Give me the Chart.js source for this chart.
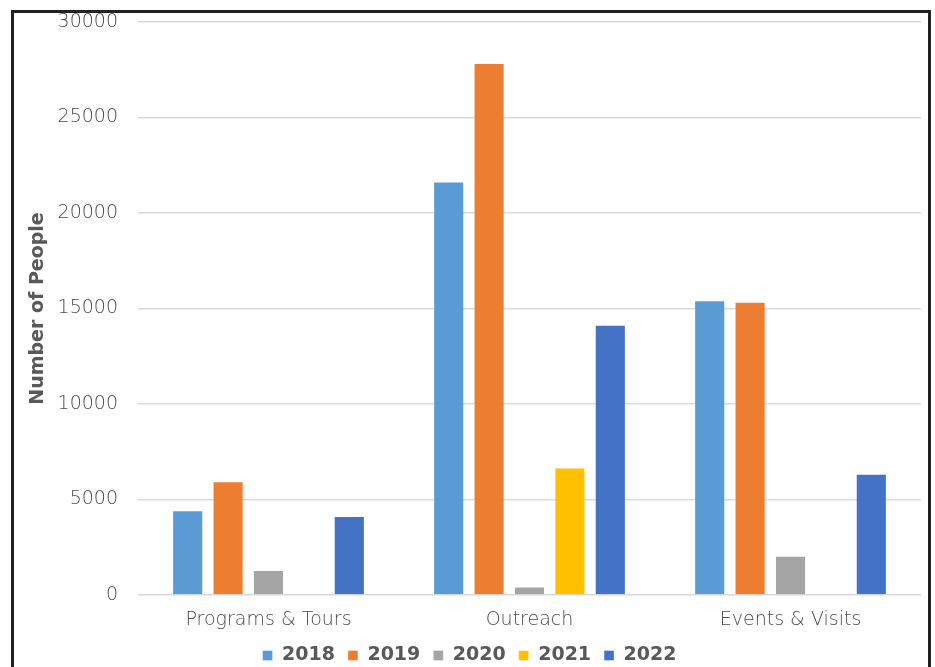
<!DOCTYPE html>
<html>
<head>
<meta charset="utf-8">
<script src="https://cdn.jsdelivr.net/npm/chart.js@4"></script>
<style>
  html, body { margin: 0; padding: 0; background: #fff; overflow: hidden; }
  #wrap { position: relative; width: 935px; height: 667px; overflow: hidden; }
  #frame {
    position: absolute; left: 11px; top: 10px; width: 914px; height: 700px;
    border: 3px solid #222; border-bottom: none; pointer-events: none;
  }
  canvas { position: absolute; left: 0; top: 0; }
</style>
</head>
<body>
<div id="wrap">
  <canvas id="chart" width="935" height="675"></canvas>
  <div id="frame"></div>
</div>
<script>
const categories = ["Programs & Tours", "Outreach", "Events & Visits"];
const years = ["2018", "2019", "2020", "2021", "2022"];
const values2018 = [4440, 21650, 15430];
const values2019 = [5960, 27850, 15350];
const values2020 = [1310, 450, 2060];
const values2021 = [0, 6680, 0];
const values2022 = [4130, 14150, 6350];
const yTicks = [0, 5000, 10000, 15000, 20000, 25000, 30000];

const colors = ["#5B9BD5", "#ED7D31", "#A5A5A5", "#FFC000", "#4472C4"];
const series = [values2018, values2019, values2020, values2021, values2022];

const textColor = "#595959";
const baseFont = "'DejaVu Sans', sans-serif";

const ctx = document.getElementById("chart").getContext("2d");

new Chart(ctx, {
    type: "bar",
    data: {
        labels: categories,
        datasets: years.map((y, i) => ({
            label: y,
            data: series[i],
            backgroundColor: colors[i],
            borderColor: "rgba(255,255,255,0.35)",
            borderWidth: 1,
            categoryPercentage: 0.774,
            barPercentage: 0.77
        }))
    },
    options: {
        responsive: false,
        devicePixelRatio: 1,
        animation: false,
        layout: { padding: { left: 18, right: 14, top: 22, bottom: 0 } },
        plugins: {
            tooltip: { enabled: false },
            legend: {
                position: "bottom",
                labels: {
                    boxWidth: 10,
                    boxHeight: 10,
                    padding: 13,
                    color: textColor,
                    font: { family: baseFont, size: 19, weight: "bold" }
                }
            }
        },
        scales: {
            x: {
                grid: { display: false, drawTicks: false },
                border: { display: false },
                afterFit: axis => {
                    axis.height = 38;
                    axis.paddingLeft = 0;
                    axis.paddingRight = 0;
                },
                ticks: {
                    padding: 14,
                    color: "#4a4a4a",
                    font: { family: baseFont, size: 19, weight: "300" }
                }
            },
            y: {
                min: 0,
                max: 30000,
                afterBuildTicks: axis => {
                    axis.ticks = yTicks.map(v => ({ value: v }));
                },
                afterFit: axis => {
                    axis.width = 120;
                    axis.paddingTop = 0;
                    axis.paddingBottom = 0;
                },
                grid: { color: "#D9D9D9", lineWidth: 1.5, drawTicks: false },
                border: { display: false },
                ticks: {
                    padding: 20,
                    color: "#4a4a4a",
                    callback: v => String(v),
                    font: { family: baseFont, size: 19, weight: "300" }
                },
                title: {
                    display: true,
                    text: "Number of People",
                    color: textColor,
                    padding: { top: 9, bottom: 0 },
                    font: { family: baseFont, size: 19, weight: "bold" }
                }
            }
        }
    }
});
</script>
</body>
</html>
